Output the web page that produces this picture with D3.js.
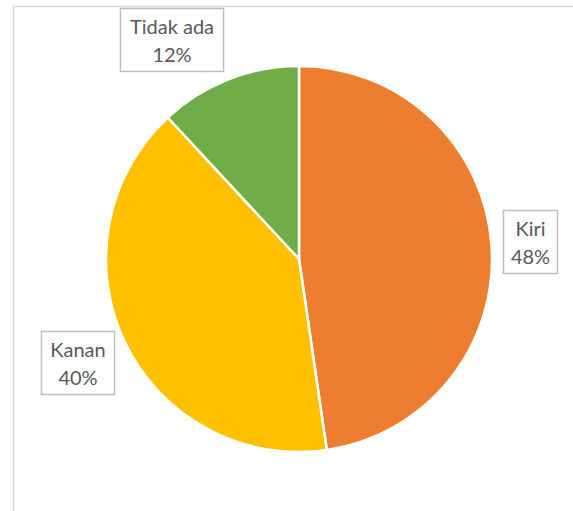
<!DOCTYPE html>
<html><head><meta charset="utf-8">
<script src="https://cdn.jsdelivr.net/npm/d3@7"></script>
<style>body{margin:0;background:#fff;}svg{display:block;}</style>
</head><body>
<svg id="c" width="573" height="511"></svg>
<script>
const categories = ["Kiri", "Kanan", "Tidak ada"];
const values = [47.7, 40.4, 11.9];
const percentLabels = ["48%", "40%", "12%"];
const colors = ["#ED7D31", "#FFC000", "#70AD47"];

const svg = d3.select("#c");
// chart border
svg.append("rect").attr("x", 13.5).attr("y", 6.5).attr("width", 600).attr("height", 600)
  .attr("fill", "none").attr("stroke", "#d9d9d9").attr("stroke-width", 1.5);

const cx = 299, cy = 259, r = 193;
const pie = d3.pie().sort(null).value(d => d)(values);
const arc = d3.arc().innerRadius(0).outerRadius(r);
const g = svg.append("g").attr("transform", `translate(${cx},${cy})`);
g.selectAll("path").data(pie).join("path")
  .attr("d", arc).attr("fill", (d, i) => colors[i])
  .attr("stroke", "#fff").attr("stroke-width", 2.5).attr("stroke-linejoin", "round");

// label boxes
const boxes = [
  {x: 503, y: 210, w: 54, h: 63},
  {x: 41, y: 331, w: 73, h: 63},
  {x: 120, y: 8, w: 103, h: 63}
];
boxes.forEach((b, i) => {
  const lg = svg.append("g");
  lg.append("rect").attr("x", b.x + 0.5).attr("y", b.y + 0.5).attr("width", b.w).attr("height", b.h)
    .attr("fill", "#fff").attr("stroke", "#bfbfbf").attr("stroke-width", 1.5);
  const t = lg.append("text").attr("text-anchor", "middle")
    .attr("font-family", "Lato, 'Open Sans', sans-serif").attr("font-size", 20).attr("fill", "#595959");
  t.append("tspan").attr("x", b.x + b.w / 2 + 0.5).attr("y", b.y + 26).text(categories[i]);
  t.append("tspan").attr("x", b.x + b.w / 2 + 0.5).attr("y", b.y + 54).text(percentLabels[i]);
});
</script>
</body></html>
